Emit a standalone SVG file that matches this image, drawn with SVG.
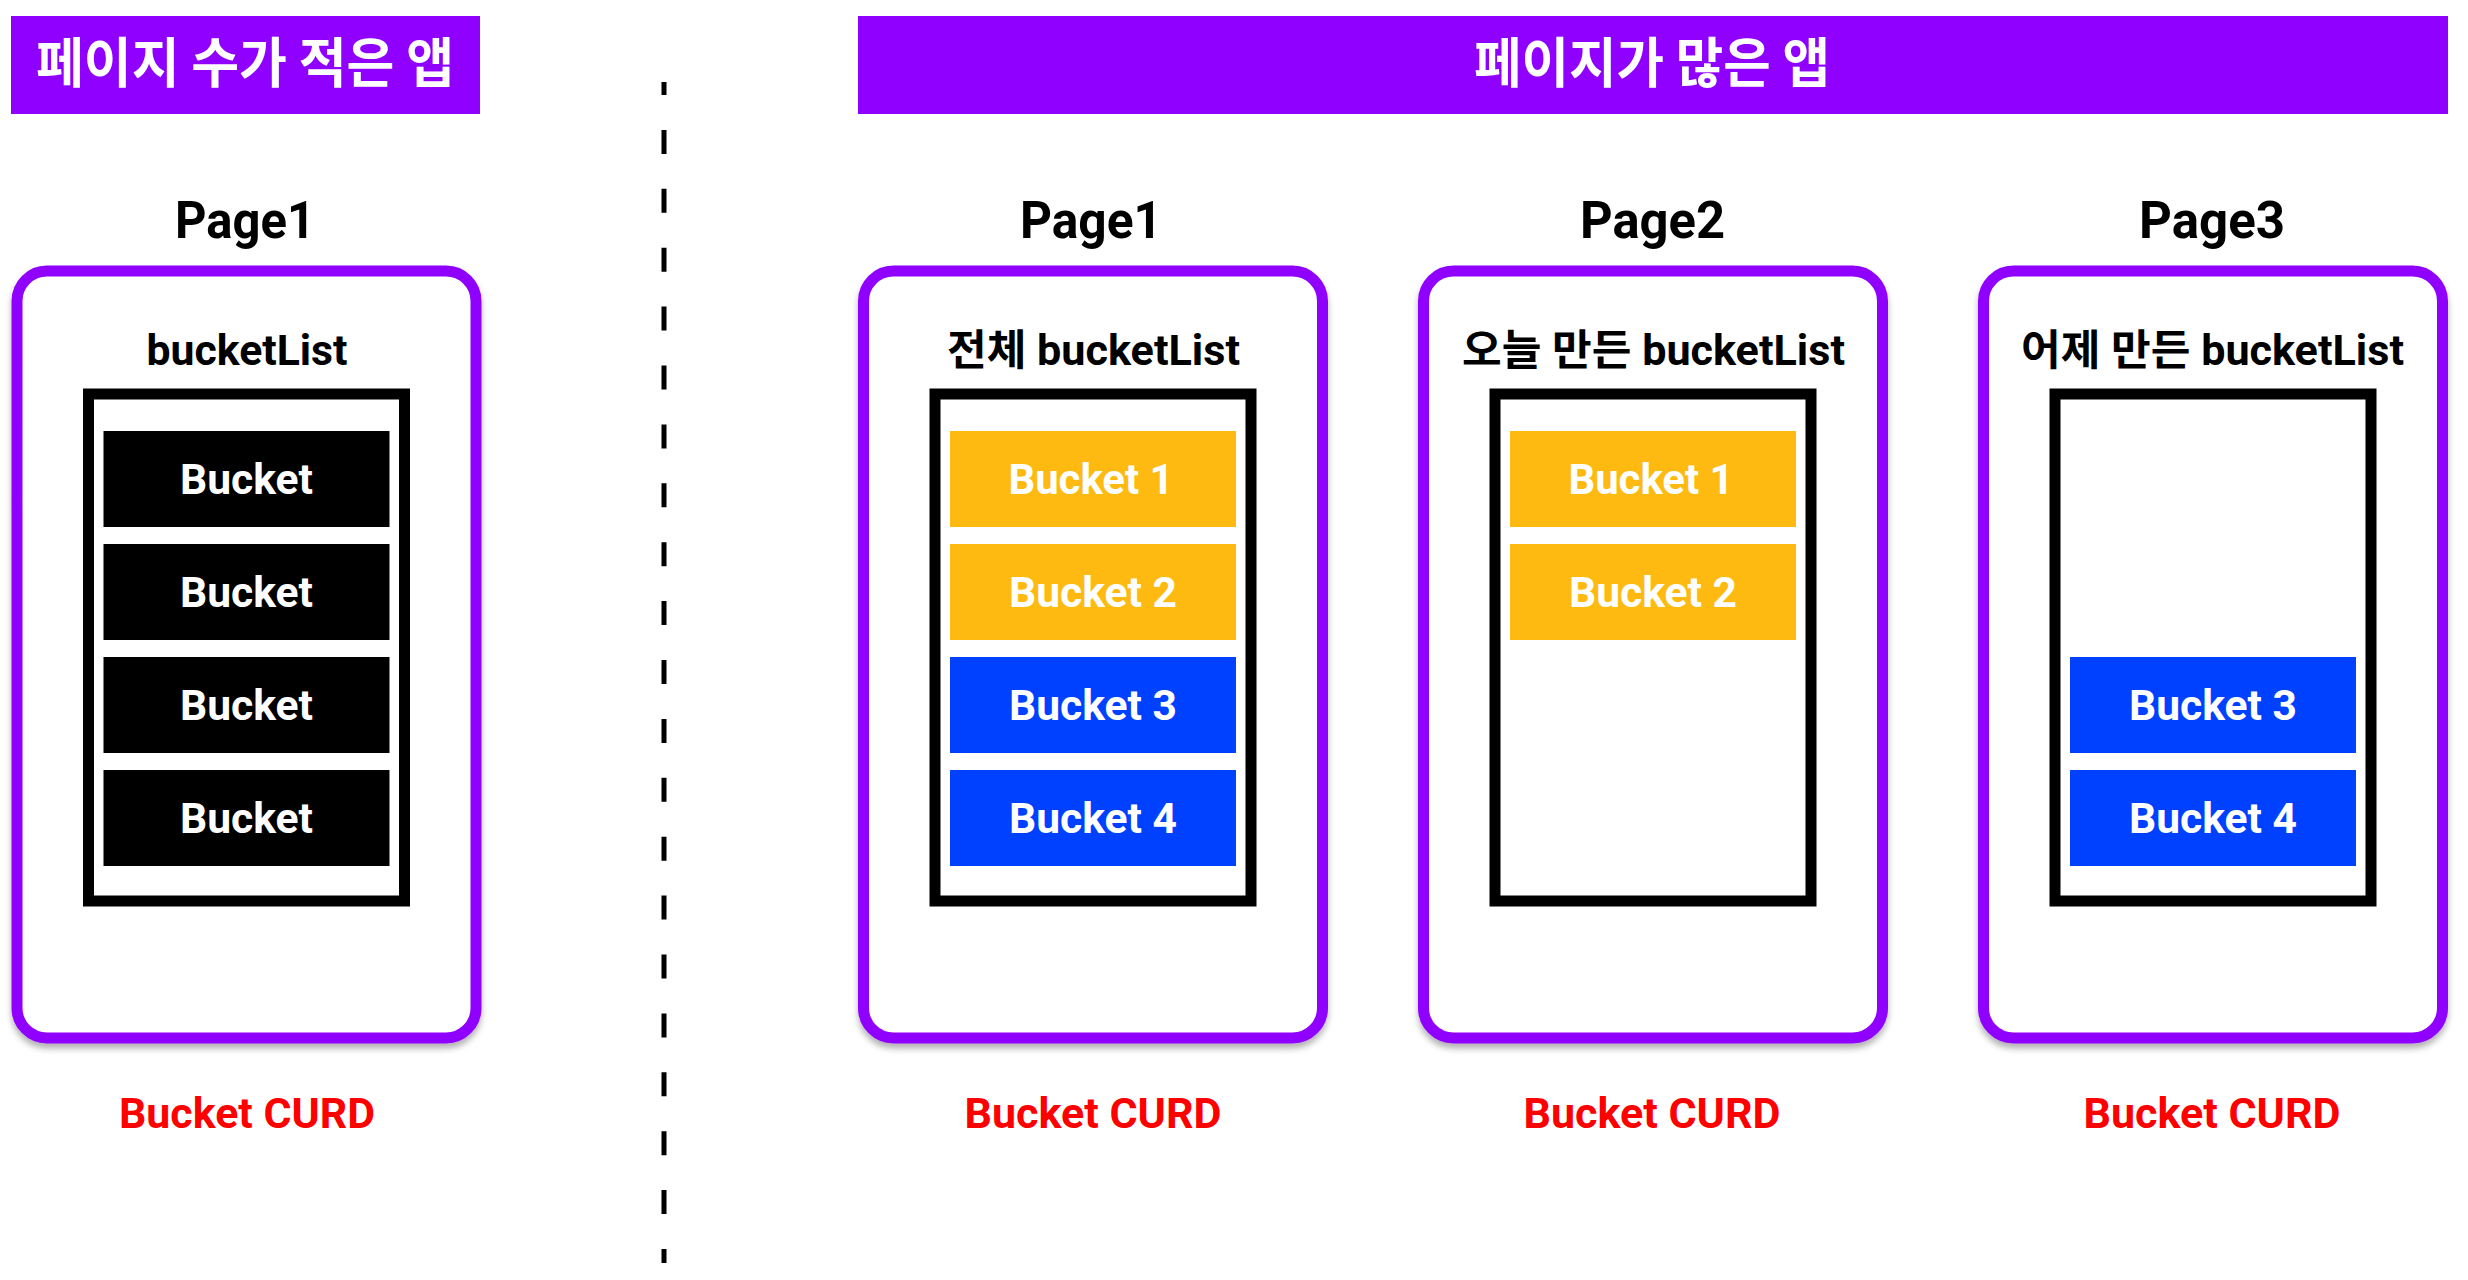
<svg xmlns="http://www.w3.org/2000/svg" width="2468" height="1280" viewBox="0 0 2468 1280">
<style>
.hdr{fill:#8F00FF}
.hdrt{font-family:"Noto Sans CJK KR","Noto Sans",sans-serif;font-weight:700;font-size:54px;fill:#fff;text-anchor:middle}
.page{fill:#fff;stroke:#8F00FF;stroke-width:11}
.pt{font-family:Roboto,"Liberation Sans",sans-serif;font-weight:700;font-size:52px;fill:#000;text-anchor:middle}
.lt{font-family:Roboto,"Noto Sans CJK KR",sans-serif;font-weight:700;font-size:42px;fill:#000;text-anchor:middle}
.list{fill:#fff;stroke:#000;stroke-width:11}
.bk{fill:#000}.by{fill:#FFBA12}.bb{fill:#0040FF}
.bt{font-family:Roboto,"Liberation Sans",sans-serif;font-weight:700;font-size:42px;fill:#fff;text-anchor:middle}
.crud{font-family:Roboto,"Liberation Sans",sans-serif;font-weight:700;font-size:43px;fill:#FF0000;text-anchor:middle}
</style>
<defs>
<filter id="sh" x="-5%" y="-5%" width="110%" height="112%">
<feDropShadow dx="0" dy="5" stdDeviation="3" flood-color="#000" flood-opacity="0.3"/>
</filter>
</defs>
<rect width="2468" height="1280" fill="#fff"/>

<g id="header-left">
<rect class="hdr" x="11" y="16" width="469" height="98"/>
<text class="hdrt" x="245" y="83" textLength="418" lengthAdjust="spacingAndGlyphs">페이지 수가 적은 앱</text>
</g>
<g id="header-right">
<rect class="hdr" x="858" y="16" width="1590" height="98"/>
<text class="hdrt" x="1652" y="83" textLength="356" lengthAdjust="spacingAndGlyphs">페이지가 많은 앱</text>
</g>

<g id="connectors">
<line x1="664" y1="82" x2="664" y2="1263" stroke="#000" stroke-width="5" stroke-dasharray="24 34.9" stroke-dashoffset="11"/>
</g>

<g id="left-page1">
<text class="pt" x="245" y="238" textLength="140" lengthAdjust="spacingAndGlyphs">Page1</text>
<rect class="page" x="17" y="271" width="459" height="767" rx="30" filter="url(#sh)"/>
<text class="lt" x="247" y="365" textLength="201" lengthAdjust="spacingAndGlyphs">bucketList</text>
<rect class="list" x="88.5" y="394" width="316" height="507"/>
<rect class="bk" x="103.5" y="431" width="286" height="96"/>
<rect class="bk" x="103.5" y="544" width="286" height="96"/>
<rect class="bk" x="103.5" y="657" width="286" height="96"/>
<rect class="bk" x="103.5" y="770" width="286" height="96"/>
<text class="bt" x="246.5" y="494" textLength="133" lengthAdjust="spacingAndGlyphs">Bucket</text>
<text class="bt" x="246.5" y="607" textLength="133" lengthAdjust="spacingAndGlyphs">Bucket</text>
<text class="bt" x="246.5" y="720" textLength="133" lengthAdjust="spacingAndGlyphs">Bucket</text>
<text class="bt" x="246.5" y="833" textLength="133" lengthAdjust="spacingAndGlyphs">Bucket</text>
<text class="crud" x="247" y="1128" textLength="256" lengthAdjust="spacingAndGlyphs">Bucket CURD</text>
</g>

<g id="right-page1">
<text class="pt" x="1091" y="238" textLength="142" lengthAdjust="spacingAndGlyphs">Page1</text>
<rect class="page" x="863.5" y="271" width="459" height="767" rx="30" filter="url(#sh)"/>
<text class="lt" x="1093.5" y="365" textLength="293" lengthAdjust="spacingAndGlyphs">전체 bucketList</text>
<rect class="list" x="935" y="394" width="316" height="507"/>
<rect class="by" x="950" y="431" width="286" height="96"/>
<rect class="by" x="950" y="544" width="286" height="96"/>
<rect class="bb" x="950" y="657" width="286" height="96"/>
<rect class="bb" x="950" y="770" width="286" height="96"/>
<text class="bt" x="1091" y="494" textLength="165" lengthAdjust="spacingAndGlyphs">Bucket 1</text>
<text class="bt" x="1093" y="607" textLength="168" lengthAdjust="spacingAndGlyphs">Bucket 2</text>
<text class="bt" x="1093" y="720" textLength="168" lengthAdjust="spacingAndGlyphs">Bucket 3</text>
<text class="bt" x="1093" y="833" textLength="168" lengthAdjust="spacingAndGlyphs">Bucket 4</text>
<text class="crud" x="1093" y="1128" textLength="257" lengthAdjust="spacingAndGlyphs">Bucket CURD</text>
</g>

<g id="right-page2">
<text class="pt" x="1652.5" y="238" textLength="145" lengthAdjust="spacingAndGlyphs">Page2</text>
<rect class="page" x="1423.5" y="271" width="459" height="767" rx="30" filter="url(#sh)"/>
<text class="lt" x="1653.5" y="365" textLength="383" lengthAdjust="spacingAndGlyphs">오늘 만든 bucketList</text>
<rect class="list" x="1495" y="394" width="316" height="507"/>
<rect class="by" x="1510" y="431" width="286" height="96"/>
<rect class="by" x="1510" y="544" width="286" height="96"/>
<text class="bt" x="1651" y="494" textLength="165" lengthAdjust="spacingAndGlyphs">Bucket 1</text>
<text class="bt" x="1653" y="607" textLength="168" lengthAdjust="spacingAndGlyphs">Bucket 2</text>
<text class="crud" x="1652" y="1128" textLength="257" lengthAdjust="spacingAndGlyphs">Bucket CURD</text>
</g>

<g id="right-page3">
<text class="pt" x="2212" y="238" textLength="146" lengthAdjust="spacingAndGlyphs">Page3</text>
<rect class="page" x="1983.5" y="271" width="459" height="767" rx="30" filter="url(#sh)"/>
<text class="lt" x="2212.5" y="365" textLength="383" lengthAdjust="spacingAndGlyphs">어제 만든 bucketList</text>
<rect class="list" x="2055" y="394" width="316" height="507"/>
<rect class="bb" x="2070" y="657" width="286" height="96"/>
<rect class="bb" x="2070" y="770" width="286" height="96"/>
<text class="bt" x="2213" y="720" textLength="168" lengthAdjust="spacingAndGlyphs">Bucket 3</text>
<text class="bt" x="2213" y="833" textLength="168" lengthAdjust="spacingAndGlyphs">Bucket 4</text>
<text class="crud" x="2212" y="1128" textLength="257" lengthAdjust="spacingAndGlyphs">Bucket CURD</text>
</g>
</svg>
